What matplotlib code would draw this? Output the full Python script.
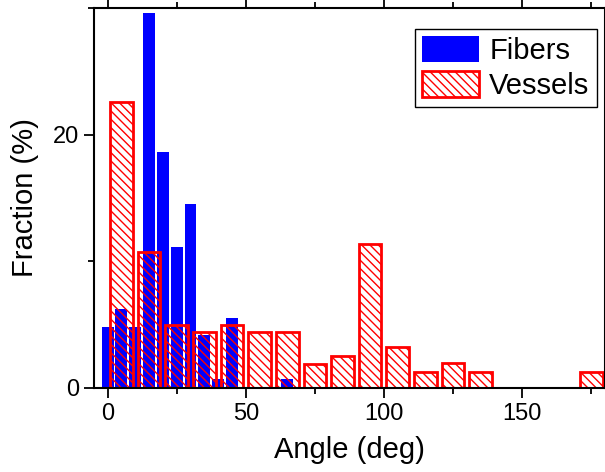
import matplotlib
matplotlib.use("Agg")
import matplotlib.pyplot as plt
from matplotlib.ticker import MultipleLocator

plt.rcParams['font.family'] = ['Liberation Sans', 'DejaVu Sans']
plt.rcParams['hatch.color'] = 'red'
plt.rcParams['hatch.linewidth'] = 1.0

# fibers: 5 deg bins
fiber_angle = [0, 5, 10, 15, 20, 25, 30, 35, 40, 45, 50, 55, 60, 65]
fiber_frac = [4.8, 6.2, 4.8, 29.6, 18.6, 11.1, 14.5, 4.2, 0.7, 5.5, 0, 0, 0, 0.7]

# vessels: 10 deg bins
vessel_angle = [5, 15, 25, 35, 45, 55, 65, 75, 85, 95, 105, 115, 125, 135, 145, 155, 165, 175]
vessel_frac = [22.6, 10.7, 5.0, 4.4, 5.0, 4.4, 4.4, 1.9, 2.5, 11.4, 3.2, 1.3, 2.0, 1.3, 0, 0, 0, 1.3]

fig = plt.figure(figsize=(6.05, 4.72), dpi=100)
ax = fig.add_axes([0.155, 0.178, 0.845, 0.805])

ax.bar(fiber_angle, fiber_frac, width=4.3, color='#0000ff', label='Fibers')
ax.bar([a for a, v in zip(vessel_angle, vessel_frac) if v > 0],
       [v for v in vessel_frac if v > 0],
       width=8.2, facecolor='none', edgecolor='red', linewidth=2,
       hatch='\\\\\\\\', label='Vessels')

ax.set_xlim(-5, 180)
ax.set_ylim(0, 30)
ax.xaxis.set_major_locator(MultipleLocator(50))
ax.xaxis.set_minor_locator(MultipleLocator(25))
ax.yaxis.set_major_locator(MultipleLocator(20))
ax.yaxis.set_minor_locator(MultipleLocator(10))
ax.tick_params(which='both', direction='out', width=1.3, labelsize=17, top=True)
ax.tick_params(which='major', length=7)
ax.tick_params(which='minor', length=4)
for s in ax.spines.values():
    s.set_linewidth(1.5)

ax.set_xlabel('Angle (deg)', fontsize=21, labelpad=8)
ax.set_ylabel('Fraction (%)', fontsize=21, labelpad=10)

leg = ax.legend(loc='upper right', bbox_to_anchor=(0.984, 0.945), fontsize=21,
                fancybox=False, edgecolor='black', framealpha=1,
                handlelength=1.95, handleheight=1.0, borderpad=0.25,
                labelspacing=0.2, handletextpad=0.35, borderaxespad=0)
leg.get_frame().set_linewidth(1.0)

fig.savefig('out.png', dpi=100)
